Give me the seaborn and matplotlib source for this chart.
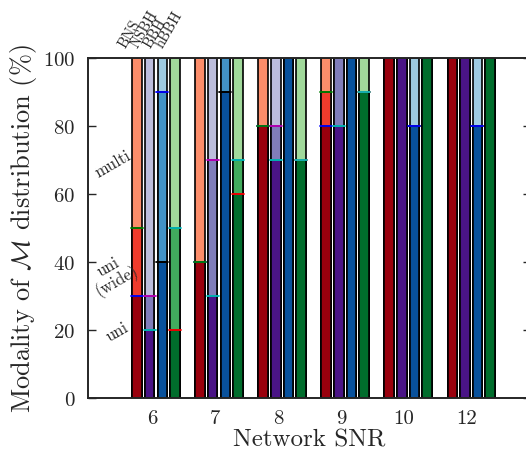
import numpy as np
import pandas as pd
import seaborn as sns
import matplotlib
matplotlib.use("Agg")
import matplotlib.pyplot as plt

# data (percent of events per modality)
snr = ['6', '7', '8', '9', '10', '12']
sources = ['BNS', 'NSBH', 'BBH', 'hBBH']

uni = {'BNS':  [30, 40, 80, 80, 100, 100],
       'NSBH': [20, 30, 70, 80, 100, 100],
       'BBH':  [40, 90, 100, 100, 80, 80],
       'hBBH': [20, 60, 70, 90, 100, 100]}
uni_wide = {'BNS':  [20, 0, 0, 10, 0, 0],
            'NSBH': [10, 40, 10, 20, 0, 0],
            'BBH':  [50, 10, 0, 0, 0, 0],
            'hBBH': [30, 10, 0, 0, 0, 0]}
multi = {'BNS':  [50, 60, 20, 10, 0, 0],
         'NSBH': [70, 30, 20, 0, 0, 0],
         'BBH':  [10, 0, 0, 0, 20, 20],
         'hBBH': [50, 30, 30, 10, 0, 0]}

col_uni = {'BNS': '#99000d', 'NSBH': '#4a1486', 'BBH': '#08519c', 'hBBH': '#006d2c'}
col_wide = {'BNS': '#ef3b2c', 'NSBH': '#807dba', 'BBH': '#4292c6', 'hBBH': '#41ab5d'}
col_multi = {'BNS': '#fc8d6a', 'NSBH': '#bcbddc', 'BBH': '#9ecae1', 'hBBH': '#a1d99b'}
line_cycle = ['b', 'g', 'r', 'c', 'm', 'y', 'k']

rows = []
for s in sources:
  for j, k in enumerate(snr):
    u = uni[s][j]
    w = u + uni_wide[s][j]
    m = w + multi[s][j]
    rows.append({'snr': k, 'source': s, 'top_uni': u, 'top_wide': w, 'top_multi': m})
df = pd.DataFrame(rows)

sns.set_style('ticks')
plt.rcParams['font.family'] = 'serif'
plt.rcParams['font.serif'] = ['cmr10']
plt.rcParams['mathtext.fontset'] = 'cm'
plt.rcParams['axes.formatter.use_mathtext'] = True
plt.rcParams['axes.unicode_minus'] = False

fig = plt.figure(figsize=(5.26, 4.56), dpi=100)
ax = fig.add_axes([88/526, 57/456, 443/526, 340/456])

for level, pal in [('top_multi', col_multi), ('top_wide', col_wide), ('top_uni', col_uni)]:
  sns.barplot(data=df, x='snr', y=level, hue='source', order=snr, hue_order=sources,
              palette=pal, saturation=1, width=0.8, gap=0.25, edgecolor='k', linewidth=1.2,
              errorbar=None, legend=False, ax=ax)

# boundary markers between the stacked segments (the ones at 100 sit under the frame)
bars = sorted(ax.patches[:24], key=lambda p: p.get_x())
for j, k in enumerate(snr):
  for i, s in enumerate(sources):
    p = bars[j*4 + i]
    x0 = p.get_x() - 0.02
    x1 = p.get_x() + p.get_width() + 0.02
    r = df[(df.source == s) & (df.snr == k)].iloc[0]
    for lev, key in enumerate(['top_uni', 'top_wide', 'top_multi']):
      if r[key] < 100:
        ax.plot([x0, x1], [r[key], r[key]], color=line_cycle[(3*i + lev) % 7], lw=1.3, zorder=2.2)

# source labels above the first group
for i, s in enumerate(sources):
  p = bars[i]
  ax.text(p.get_x() + p.get_width()/2 - 0.15, 102.5, s, rotation=60, rotation_mode='anchor',
          ha='left', va='bottom', fontsize=10.5, clip_on=False)

ax.text(-0.68, 69, 'multi', rotation=30, ha='center', va='center', fontsize=12)
ax.text(-0.68, 36.5, 'uni\n(wide)', rotation=30, ha='center', va='center', fontsize=12,
        linespacing=1.0)
ax.text(-0.62, 19.7, 'uni', rotation=30, ha='center', va='center', fontsize=12)

ax.set_xlim(-1.08, 5.95)
ax.set_ylim(0, 100)
ax.set_xticks(np.arange(len(snr)) - 0.065, snr)
ax.set_yticks([0, 20, 40, 60, 80, 100])
ax.tick_params(axis='y', direction='in', left=True, right=True, length=6, width=1, pad=9, labelsize=15)
ax.tick_params(axis='x', direction='in', bottom=True, top=False, length=5, width=1, pad=8, labelsize=15)
for sp in ax.spines.values():
  sp.set_visible(True)
  sp.set_linewidth(1.4)

ax.set_xlabel('Network SNR', fontsize=18, labelpad=1)
ax.set_ylabel(r'Modality of $\mathcal{M}$ distribution (%)', fontsize=19, labelpad=3)

plt.savefig('out.png', dpi=100)
plt.close()
